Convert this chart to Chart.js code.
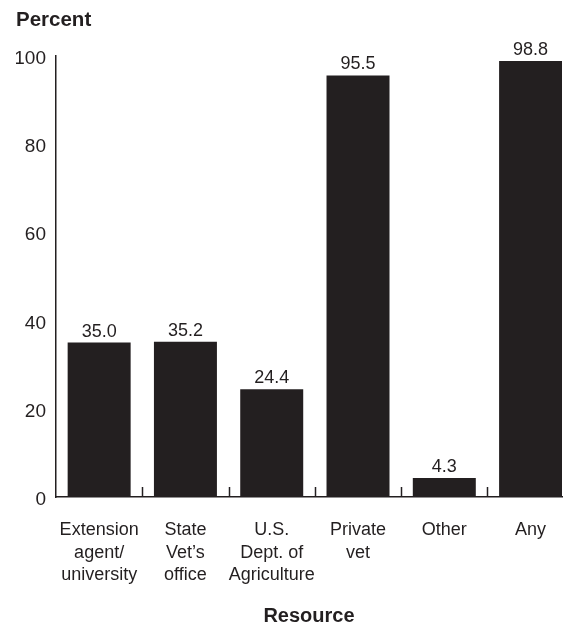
<!DOCTYPE html>
<html>
<head>
<meta charset="utf-8">
<script src="https://cdn.jsdelivr.net/npm/chart.js@4.4.1/dist/chart.umd.min.js"></script>
<style>
  html, body { margin: 0; padding: 0; background: #ffffff; overflow: hidden; }
  #wrap { position: relative; width: 572px; height: 624px; }
</style>
</head>
<body>
<div id="wrap"><canvas id="c" width="572" height="624"></canvas></div>
<script>
const categories = [
  ["Extension", "agent/", "university"],
  ["State", "Vet\u2019s", "office"],
  ["U.S.", "Dept. of", "Agriculture"],
  ["Private", "vet"],
  ["Other"],
  ["Any"]
];
const percentValues = [35.0, 35.2, 24.4, 95.5, 4.3, 98.8];
const yTicks = [0, 20, 40, 60, 80, 100];
const yAxisTitle = "Percent";
const xAxisTitle = "Resource";

const INK = "#231f20";
const FONT = "'Liberation Sans', Arial, Helvetica, sans-serif";

const points = percentValues.map((v, i) => ({ x: i, y: v }));

const extrasPlugin = {
  id: "extras",
  afterDatasetsDraw(chart) {
    const ctx = chart.ctx;
    const xs = chart.scales.x;
    const area = chart.chartArea;
    ctx.save();
    ctx.strokeStyle = INK;
    ctx.lineWidth = 1.5;
    for (let i = 0; i < categories.length - 1; i++) {
      const px = Math.round(xs.getPixelForValue(i + 0.5)) + 0.5;
      ctx.beginPath();
      ctx.moveTo(px, area.bottom);
      ctx.lineTo(px, area.bottom - 10);
      ctx.stroke();
    }
    const meta = chart.getDatasetMeta(0);
    ctx.fillStyle = INK;
    ctx.font = "18px " + FONT;
    ctx.textAlign = "center";
    ctx.textBaseline = "alphabetic";
    meta.data.forEach((bar, i) => {
      ctx.fillText(percentValues[i].toFixed(1), bar.x, bar.y - 6);
    });
    ctx.restore();
  }
};

new Chart(document.getElementById("c"), {
  type: "bar",
  data: {
    datasets: [{
      data: points,
      backgroundColor: INK,
      borderWidth: 0,
      categoryPercentage: 1,
      barPercentage: 0.73
    }]
  },
  options: {
    responsive: false,
    animation: false,
    devicePixelRatio: 1,
    layout: { padding: { left: 16, right: 10, top: 0, bottom: 0 } },
    plugins: {
      legend: { display: false },
      tooltip: { enabled: false },
      title: {
        display: true,
        text: yAxisTitle,
        align: "start",
        color: INK,
        font: { family: FONT, size: 20.5, weight: "bold", lineHeight: 1.2 },
        padding: { top: 8, bottom: 23 }
      }
    },
    scales: {
      x: {
        type: "linear",
        offset: false,
        min: -0.5,
        max: 5.364,
        afterBuildTicks(scale) {
          scale.ticks = categories.map((c, i) => ({ value: i }));
        },
        afterFit(scale) { scale.height = 127; },
        grid: { display: false, drawTicks: false, offset: false },
        border: { display: true, color: INK, width: 1.5 },
        ticks: {
          autoSkip: false,
          maxRotation: 0,
          minRotation: 0,
          padding: 22,
          color: INK,
          font: { family: FONT, size: 18, lineHeight: 1.25 },
          callback: (value, index) => categories[index]
        },
        title: {
          display: true,
          text: xAxisTitle,
          color: INK,
          font: { family: FONT, size: 20, weight: "bold", lineHeight: 0.8 },
          padding: { top: 0, bottom: 0 }
        }
      },
      y: {
        min: 0,
        max: 100,
        afterBuildTicks(scale) {
          scale.ticks = yTicks.map(v => ({ value: v }));
        },
        afterFit(scale) { scale.width = 40; },
        grid: { display: false, drawTicks: false },
        border: { display: true, color: INK, width: 1.5 },
        ticks: {
          padding: 10,
          labelOffset: 3,
          color: INK,
          font: { family: FONT, size: 19 }
        }
      }
    }
  },
  plugins: [extrasPlugin]
});
</script>
</body>
</html>
